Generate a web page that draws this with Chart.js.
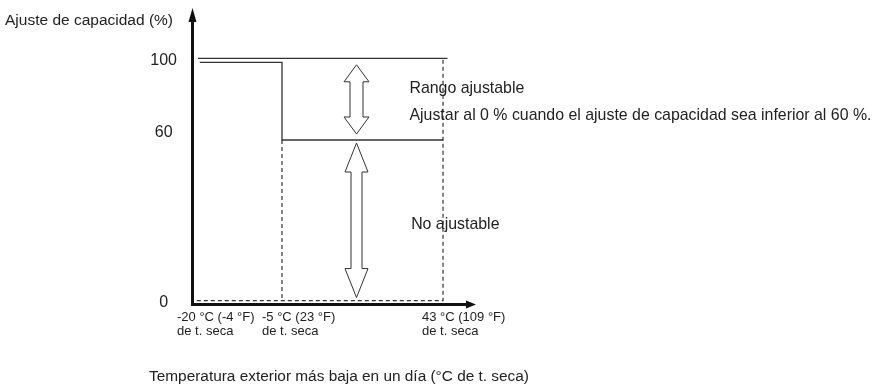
<!DOCTYPE html>
<html>
<head>
<meta charset="utf-8">
<script src="https://cdn.jsdelivr.net/npm/chart.js@4.4.1/dist/chart.umd.min.js"></script>
<style>
  html, body { margin: 0; padding: 0; background: #fff; }
</style>
</head>
<body>
<canvas id="c" width="874" height="387"></canvas>
<script>
// --- datos del esquema ---
const tempTicks = [-20, -5, 43];
const tempLabels = [
  ['-20 °C (-4 °F)', 'de t. seca'],
  ['-5 °C (23 °F)', 'de t. seca'],
  ['43 °C (109 °F)', 'de t. seca']
];
const capTicks = [0, 60, 100];

// limite superior del rango ajustable
const limitX = [-19, 44.5];
const limitY = [100, 100];
// ajuste real (dibujado justo bajo el limite del 100 %)
const stepX = [-18.7, -5, -5, 43];
const stepY = [98, 98, 60, 60];
// guias discontinuas
const guideX = [-19.2, 43, 43];
const guideY = [0, 0, 100];
const guide2X = [-5, -5];
const guide2Y = [60, 0];

// flechas dobles: [desde, hasta] en %
const arrowX = 17;
const arrowRanges = [[60, 100], [0, 60]];

const noteTexts = ['Rango ajustable',
  'Ajustar al 0 % cuando el ajuste de capacidad sea inferior al 60 %.',
  'No ajustable'];
const xTitle = 'Temperatura exterior más baja en un día (°C de t. seca)';

// --- escala esquematica (no proporcional, como el dibujo) ---
const anchors = {
  x: [[-20, 0], [-5, 0.3237], [43, 0.9029], [52, 1]],
  y: [[-1, 0], [0, 0.0125], [60, 0.5977], [100, 0.8954], [110, 1]]
};
const labelShift = {
  x: { '-20': -15, '-5': -20, '43': -21 },
  y: { '0': 2, '60': -7, '100': 2.5 }
};

class SchematicScale extends Chart.LinearScale {
  _frac(v) {
    const pts = anchors[this.id];
    for (let i = 1; i < pts.length; i++) {
      const [v0, f0] = pts[i - 1], [v1, f1] = pts[i];
      if (v <= v1 || i === pts.length - 1) return f0 + (v - v0) / (v1 - v0) * (f1 - f0);
    }
  }
  getPixelForValue(v) {
    return v == null ? NaN : this.getPixelForDecimal(this._frac(v));
  }
  getPixelForTick(i) {
    const t = this.ticks[i];
    if (!t) return null;
    return this.getPixelForValue(t.value) + ((labelShift[this.id] || {})[t.value] || 0);
  }
}
SchematicScale.id = 'schematic';
SchematicScale.defaults = Chart.LinearScale.defaults;
Chart.register(SchematicScale);

const pts = (xs, ys) => xs.map((x, i) => ({ x, y: ys[i] }));
const FONT = '"Liberation Sans", Arial, sans-serif';
const INK = '#222';
Chart.defaults.font.family = FONT;

function dblArrow(ctx, cx, top, bot, head, hw, sw) {
  ctx.beginPath();
  ctx.moveTo(cx, top);
  ctx.lineTo(cx + hw, top + head);
  ctx.lineTo(cx + sw, top + head);
  ctx.lineTo(cx + sw, bot - head);
  ctx.lineTo(cx + hw, bot - head);
  ctx.lineTo(cx, bot);
  ctx.lineTo(cx - hw, bot - head);
  ctx.lineTo(cx - sw, bot - head);
  ctx.lineTo(cx - sw, top + head);
  ctx.lineTo(cx - hw, top + head);
  ctx.closePath();
  ctx.fill();
  ctx.stroke();
}

const decor = {
  id: 'decor',
  afterDraw(chart) {
    const { ctx, chartArea: a, scales: { x, y } } = chart;
    ctx.save();
    // flechas de los ejes
    ctx.strokeStyle = '#111';
    ctx.fillStyle = '#111';
    ctx.lineWidth = 3;
    const ax = Math.round(a.left) + 0.5;
    const ay = Math.round(a.bottom) + 0.5;
    ctx.beginPath(); ctx.moveTo(ax, a.top + 1); ctx.lineTo(ax, 18); ctx.stroke();
    ctx.beginPath(); ctx.moveTo(ax, 8); ctx.lineTo(ax + 4, 22); ctx.lineTo(ax - 4, 22); ctx.closePath(); ctx.fill();
    ctx.beginPath(); ctx.moveTo(a.right + 6, ay); ctx.lineTo(a.right - 4, ay - 4); ctx.lineTo(a.right - 4, ay + 4); ctx.closePath(); ctx.fill();

    // flechas dobles
    ctx.strokeStyle = '#333';
    ctx.fillStyle = '#fff';
    ctx.lineWidth = 1;
    const cx = Math.round(x.getPixelForValue(arrowX)) + 0.5;
    const [r1, r2] = arrowRanges;
    dblArrow(ctx, cx, y.getPixelForValue(r1[1]) + 6.5, y.getPixelForValue(r1[0]) - 6, 17, 12.5, 6.5);
    dblArrow(ctx, cx, y.getPixelForValue(r2[1]) + 3, y.getPixelForValue(r2[0]) - 3, 29, 11.5, 5.5);

    // notas
    ctx.fillStyle = INK;
    ctx.font = '15.9px ' + FONT;
    ctx.textAlign = 'left';
    ctx.textBaseline = 'middle';
    ctx.fillText(noteTexts[0], x.getPixelForValue(33), y.getPixelForValue(85));
    ctx.fillText(noteTexts[1], x.getPixelForValue(33), y.getPixelForValue(72));
    ctx.fillText(noteTexts[2], x.getPixelForValue(33.5), y.getPixelForValue(28.5));

    // titulo del eje x (mas ancho que el area del grafico)
    ctx.font = '15.4px ' + FONT;
    ctx.textAlign = 'center';
    ctx.fillText(xTitle, (a.left + a.right) / 2 + 8, chart.height - 10);
    ctx.restore();
  }
};

new Chart(document.getElementById('c'), {
  type: 'line',
  data: {
    datasets: [
      { data: pts(limitX, limitY), borderColor: '#333', borderWidth: 1.3 },
      { data: pts(stepX, stepY), borderColor: '#333', borderWidth: 1.3 },
      { data: pts(guideX, guideY), borderColor: '#333', borderWidth: 1.2, borderDash: [4, 3] },
      { data: pts(guide2X, guide2Y), borderColor: '#333', borderWidth: 1.2, borderDash: [4, 3] }
    ]
  },
  options: {
    responsive: false,
    animation: false,
    events: [],
    layout: { padding: { left: 5, right: 404, top: 0, bottom: 0 } },
    elements: { point: { radius: 0 }, line: { tension: 0, fill: false } },
    plugins: {
      legend: { display: false },
      tooltip: { enabled: false },
      title: {
        display: true,
        text: 'Ajuste de capacidad (%)',
        align: 'start',
        color: INK,
        font: { size: 15.5, weight: 'normal', lineHeight: 1.2 },
        padding: { top: 11, bottom: 0 }
      }
    },
    scales: {
      x: {
        type: 'schematic',
        min: -20, max: 52, bounds: 'data',
        grid: { display: false, drawTicks: false },
        border: { display: true, width: 3, color: '#111' },
        afterBuildTicks: s => { s.ticks = tempTicks.map(v => ({ value: v })); },
        afterFit: s => { s.height = 83; },
        ticks: {
          autoSkip: false, maxRotation: 0, align: 'start', padding: 6,
          color: INK, font: { size: 13, lineHeight: 1.1 },
          callback: (v, i) => tempLabels[i]
        }
      },
      y: {
        type: 'schematic',
        min: -1, max: 110, bounds: 'data',
        grid: { display: false, drawTicks: false },
        border: { display: true, width: 3, color: '#111' },
        afterBuildTicks: s => { s.ticks = capTicks.map(v => ({ value: v })); },
        afterFit: s => { s.width = 187; },
        ticks: {
          autoSkip: false, crossAlign: 'center', padding: 15,
          color: INK, font: { size: 16 },
          callback: v => String(v)
        }
      }
    }
  },
  plugins: [decor]
});
</script>
</body>
</html>
